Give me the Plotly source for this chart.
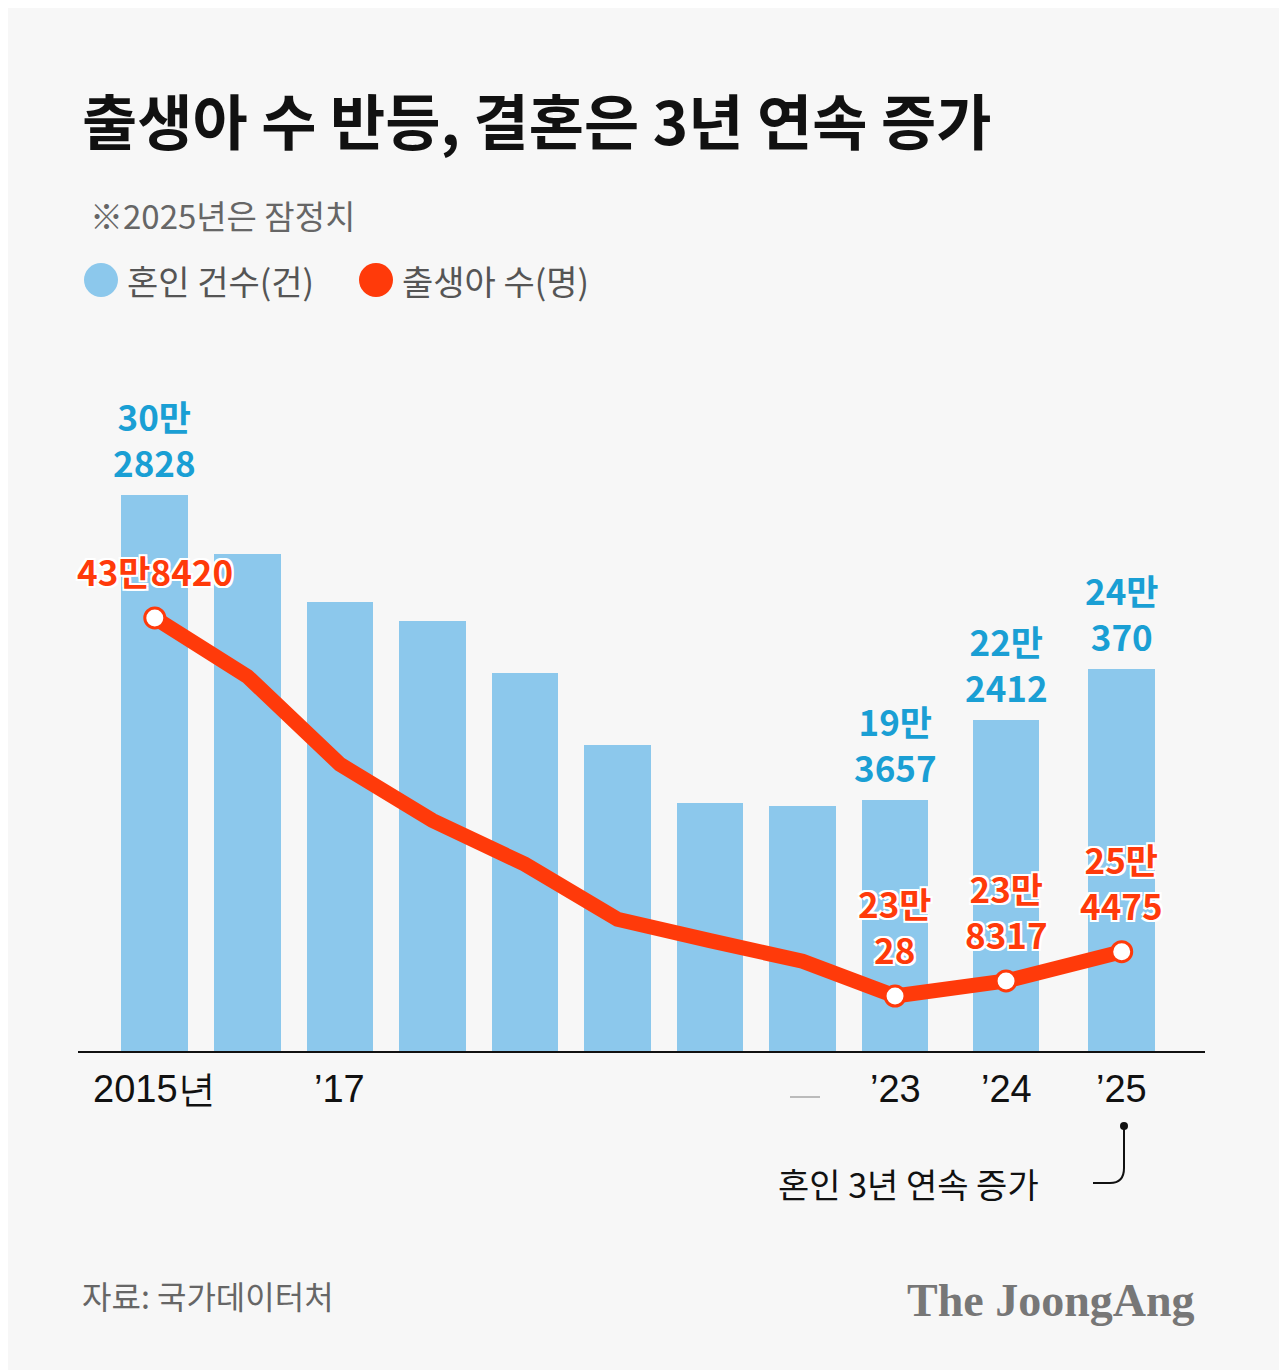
import plotly.graph_objects as go

years = ["2015", "2016", "2017", "2018", "2019", "2020", "2021", "2022", "2023", "2024", "2025"]
marriages = [302828, 281635, 264455, 257622, 239159, 213502, 192507, 191690, 193657, 222412, 240370]
births = [438420, 406243, 357771, 326822, 302676, 272337, 260562, 249186, 230028, 238317, 254475]
tick_labels = {"2015": "2015년", "2017": "’17", "2023": "’23", "2024": "’24", "2025": "’25"}
marr_labels = {"2015": "30만<br>2828", "2023": "19만<br>3657", "2024": "22만<br>2412", "2025": "24만<br>370"}
birth_labels = {"2015": "43만8420", "2023": "23만<br>28", "2024": "23만<br>8317", "2025": "25만<br>4475"}

# layout positions (x slots, wider gap for last years)
xpos = [0, 1, 2, 3, 4, 5, 6, 7, 8, 9.2, 10.45]

W, H = 1287, 1370
OFF = 8
L, R, T, B = 70, 90, 372, 326
BLUE = "#8cc8ec"; BLUE_T = "#1a9fd4"; RED = "#ff3a0a"
FONT = "Noto Sans CJK KR"

fig = go.Figure()
fig.add_bar(x=xpos, y=marriages, width=0.72, marker_color=BLUE, marker_line_width=0, yaxis="y")
fig.add_scatter(x=xpos, y=births, mode="lines", line=dict(color=RED, width=15), yaxis="y2")
mk = [i for i, y in enumerate(years) if y in birth_labels]
fig.add_scatter(x=[xpos[i] for i in mk], y=[births[i] for i in mk], mode="markers", yaxis="y2",
                marker=dict(size=20, color="white", line=dict(color=RED, width=3)))

ann = []
sh = "white 2px 2px 0px, white -2px -2px 0px, white 2px -2px 0px, white -2px 2px 0px"
for i, y in enumerate(years):
    if y in marr_labels:
        ann.append(dict(x=xpos[i], y=marriages[i], yref="y", text=marr_labels[y], showarrow=False,
                        yanchor="bottom", yshift=6,
                        font=dict(family=FONT, size=35, color=BLUE_T, weight="bold"), align="center"))
    if y in birth_labels:
        ann.append(dict(x=xpos[i], y=births[i], yref="y2", text=birth_labels[y], showarrow=False,
                        yanchor="bottom", yshift=20,
                        font=dict(family=FONT, size=35, color=RED, weight="bold", shadow=sh), align="center"))
    if y in tick_labels:
        ann.append(dict(x=xpos[i], y=0, yref="paper", text=tick_labels[y], showarrow=False,
                        yanchor="top", yshift=-14,
                        font=dict(family="Liberation Sans", size=38, color="#111")))

def py(p):  # page pixel y -> paper
    return (H - B - (p - OFF)) / (H - T - B)
def px(p):
    return (p - OFF - L) / (W - L - R)

ann += [
    dict(x=px(80), y=py(118), xref="paper", yref="paper", xanchor="left", yanchor="middle", showarrow=False,
         text="출생아 수 반등, 결혼은 3년 연속 증가", font=dict(family=FONT, size=60, color="#111", weight="bold")),
    dict(x=px(88), y=py(215), xref="paper", yref="paper", xanchor="left", yanchor="middle", showarrow=False,
         text="※2025년은 잠정치", font=dict(family=FONT, size=33, color="#666")),
    dict(x=px(125), y=py(280), xref="paper", yref="paper", xanchor="left", yanchor="middle", showarrow=False,
         text="혼인 건수(건)", font=dict(family=FONT, size=34, color="#555")),
    dict(x=px(400), y=py(280), xref="paper", yref="paper", xanchor="left", yanchor="middle", showarrow=False,
         text="출생아 수(명)", font=dict(family=FONT, size=34, color="#555")),
    dict(x=px(776), y=py(1183), xref="paper", yref="paper", xanchor="left", yanchor="middle", showarrow=False,
         text="혼인 3년 연속 증가", font=dict(family=FONT, size=34, color="#111")),
    dict(x=px(80), y=py(1295), xref="paper", yref="paper", xanchor="left", yanchor="middle", showarrow=False,
         text="자료: 국가데이터처", font=dict(family=FONT, size=32, color="#666")),
    dict(x=px(1197), y=py(1300), xref="paper", yref="paper", xanchor="right", yanchor="middle", showarrow=False,
         text="The JoongAng", font=dict(family="Liberation Serif", size=46, color="#777", weight="bold")),
]

shapes = [
    dict(type="line", xref="paper", yref="paper", x0=0, x1=1, y0=0, y1=0, line=dict(color="#111", width=2)),
    dict(type="circle", xref="paper", yref="paper", x0=px(84), x1=px(118), y0=py(263), y1=py(297),
         fillcolor=BLUE, line_width=0),
    dict(type="circle", xref="paper", yref="paper", x0=px(359), x1=px(393), y0=py(263), y1=py(297),
         fillcolor=RED, line_width=0),
    dict(type="path", xref="paper", yref="paper",
         path=f"M {px(1124)} {py(1128)} L {px(1124)} {py(1168)} Q {px(1124)} {py(1183)} {px(1110)} {py(1183)} L {px(1093)} {py(1183)}",
         line=dict(color="#111", width=2)),
    dict(type="circle", xref="paper", yref="paper", x0=px(1120), x1=px(1128), y0=py(1122), y1=py(1130),
         fillcolor="#111", line_width=0),
    dict(type="line", xref="paper", yref="paper", x0=px(790), x1=px(820), y0=py(1097), y1=py(1097),
         line=dict(color="#bbb", width=2)),
]

fig.update_layout(
    width=W, height=H, margin=dict(l=L, r=R, t=T, b=B),
    paper_bgcolor="#f7f7f7", plot_bgcolor="#f7f7f7", showlegend=False,
    xaxis=dict(range=[-0.83, 11.35], visible=False, fixedrange=True),
    yaxis=dict(range=[103467, 343982], visible=False),
    yaxis2=dict(range=[199157, 569609], visible=False, overlaying="y"),
    annotations=ann, shapes=shapes, bargap=0,
)
fig.write_html("out.html")
